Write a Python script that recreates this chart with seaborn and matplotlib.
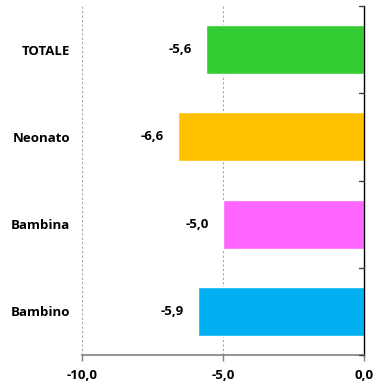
import matplotlib
matplotlib.use("Agg")
import matplotlib.pyplot as plt
import seaborn as sns
import pandas as pd

categories = ["TOTALE", "Neonato", "Bambina", "Bambino"]
values = [-5.6, -6.6, -5.0, -5.9]
colors = ["#33CC33", "#FFC000", "#FF66FF", "#00B0F0"]
xticks = [-10.0, -5.0, 0.0]

sns.set_style("white")
plt.rcParams["font.family"] = ["Open Sans", "DejaVu Sans"]
plt.rcParams["text.color"] = "black"
plt.rcParams["xtick.color"] = "black"
plt.rcParams["ytick.color"] = "black"

df = pd.DataFrame({"cat": categories, "val": values})

fig = plt.figure(figsize=(3.76, 3.87), dpi=100)
ax = fig.add_axes([82/376, 1-355/387, (364-82)/376, (355-6)/387])

sns.barplot(data=df, y="cat", x="val", hue="cat", palette=colors, order=categories,
            orient="h", width=0.56, legend=False, ax=ax, saturation=1)

ax.set_xlim(-10, 0)
ax.set_ylim(len(categories)-0.5, -0.5)
ax.set_xlabel("")
ax.set_ylabel("")

# gridlines
for xv in xticks[:-1]:
    ax.axvline(xv, color="#A6A6A6", linestyle=(0, (2, 2)), linewidth=0.8, zorder=0)

ax.set_xticks(xticks)
ax.set_xticklabels([f"{v:.1f}".replace(".", ",") for v in xticks], fontweight="bold", fontsize=9.5)
ax.tick_params(axis="x", direction="out", length=4, color="#808080", width=1, pad=6, bottom=True,
               labelcolor="black")

ax.set_yticks(range(len(categories)))
ax.set_yticklabels(categories, fontweight="bold", fontsize=9.5)
ax.tick_params(axis="y", left=False, pad=5, labelcolor="black")

for s in ["top", "left"]:
    ax.spines[s].set_visible(False)
ax.spines["bottom"].set_color("#808080")
ax.spines["bottom"].set_linewidth(1.2)
ax.spines["right"].set_color("black")
ax.spines["right"].set_linewidth(1.0)

# right-axis boundary ticks
for yb in [i - 0.5 for i in range(len(categories)+1)]:
    ax.plot([-0.18, 0], [yb, yb], color="#404040", lw=1, clip_on=False, zorder=5)

for i, v in enumerate(values):
    ax.text(v - 0.5, i, f"{v:.1f}".replace(".", ","), ha="right", va="center",
            fontweight="bold", fontsize=9.5, color="black")

fig.savefig("out.png", dpi=100)
